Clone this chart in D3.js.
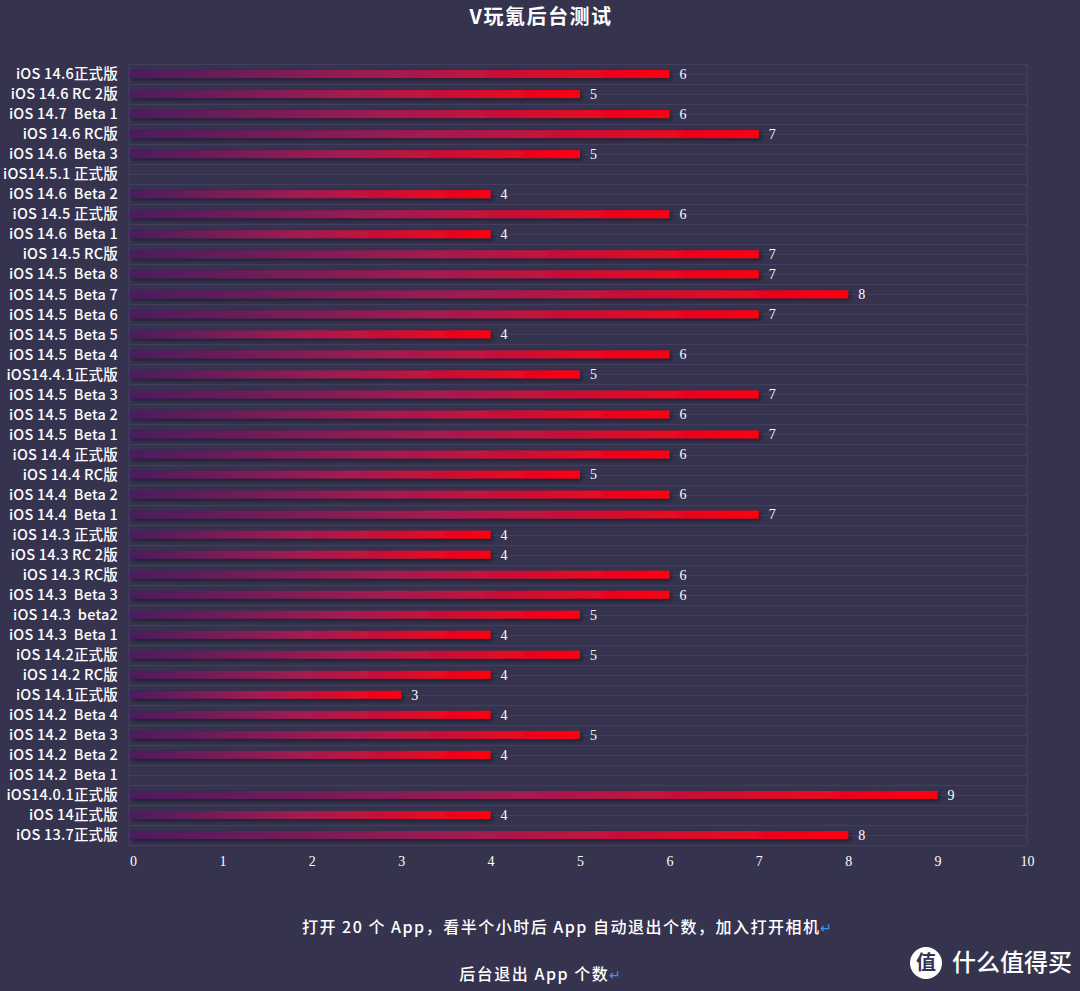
<!DOCTYPE html>
<html>
<head>
<meta charset="utf-8">
<script src="https://cdn.jsdelivr.net/npm/d3@7"></script>
<style>
  html, body { margin: 0; padding: 0; background: #36334f; }
  #chart { width: 1080px; height: 991px; }
  text { white-space: pre; }
</style>
</head>
<body>
<div id="chart"></div>
<script>
// data, top row first
const categories = [
  'iOS 14.6正式版', 'iOS 14.6 RC 2版', 'iOS 14.7  Beta 1', 'iOS 14.6 RC版', 'iOS 14.6  Beta 3',
  'iOS14.5.1 正式版', 'iOS 14.6  Beta 2', 'iOS 14.5 正式版', 'iOS 14.6  Beta 1', 'iOS 14.5 RC版',
  'iOS 14.5  Beta 8', 'iOS 14.5  Beta 7', 'iOS 14.5  Beta 6', 'iOS 14.5  Beta 5', 'iOS 14.5  Beta 4',
  'iOS14.4.1正式版', 'iOS 14.5  Beta 3', 'iOS 14.5  Beta 2', 'iOS 14.5  Beta 1', 'iOS 14.4 正式版',
  'iOS 14.4 RC版', 'iOS 14.4  Beta 2', 'iOS 14.4  Beta 1', 'iOS 14.3 正式版', 'iOS 14.3 RC 2版',
  'iOS 14.3 RC版', 'iOS 14.3  Beta 3', 'iOS 14.3  beta2', 'iOS 14.3  Beta 1', 'iOS 14.2正式版',
  'iOS 14.2 RC版', 'iOS 14.1正式版', 'iOS 14.2  Beta 4', 'iOS 14.2  Beta 3', 'iOS 14.2  Beta 2',
  'iOS 14.2  Beta 1', 'iOS14.0.1正式版', 'iOS 14正式版', 'iOS 13.7正式版'
];
const values = [
  6, 5, 6, 7, 5,
  null, 4, 6, 4, 7,
  7, 8, 7, 4, 6,
  5, 7, 6, 7, 6,
  5, 6, 7, 4, 4,
  6, 6, 5, 4, 5,
  4, 3, 4, 5, 4,
  null, 9, 4, 8
];
const xTicks = [0, 1, 2, 3, 4, 5, 6, 7, 8, 9, 10];
const title = 'V玩氪后台测试';
const note1 = '打开 20 个 App，看半个小时后 App 自动退出个数，加入打开相机';
const note2 = '后台退出 App 个数';

const data = categories.map((c, i) => ({ name: c, value: values[i] }));

const width = 1080, height = 991;
const margin = { top: 64, right: 53, bottom: 146, left: 133 };

const svg = d3.select('#chart').append('svg')
  .attr('width', width).attr('height', height)
  .attr('viewBox', [0, 0, width, height]);

const defs = svg.append('defs');
const grad = defs.append('linearGradient').attr('id', 'barGrad');
grad.append('stop').attr('offset', '0%').attr('stop-color', '#4a1a5e');
grad.append('stop').attr('offset', '50%').attr('stop-color', '#a61a4f');
grad.append('stop').attr('offset', '100%').attr('stop-color', '#ff0010');
const shadow = defs.append('filter').attr('id', 'shadow')
  .attr('x', '-5%').attr('y', '-100%').attr('width', '115%').attr('height', '300%');
shadow.append('feDropShadow').attr('dx', 2).attr('dy', 2).attr('stdDeviation', 2)
  .attr('flood-color', '#000').attr('flood-opacity', 0.45);

svg.append('rect').attr('width', width).attr('height', height).attr('fill', '#36334f');

let x = d3.scaleLinear().domain([0, 10]).range([margin.left, width - margin.right]);
let y = d3.scaleBand().domain(categories).range([margin.top, height - margin.bottom])
  .paddingInner(0.6).paddingOuter(0.3);

// grid lines: every half band
const step = y.step();
const gridYs = [margin.top];
categories.forEach((c) => {
  gridYs.push(y(c) + y.bandwidth() / 2);
  gridYs.push(y(c) + y.bandwidth() / 2 + step / 2);
});
svg.append('g')
  .attr('stroke', '#423e60')
  .attr('stroke-width', 1)
  .selectAll('line')
  .data(gridYs)
  .join('line')
  .attr('x1', x(0) - 4)
  .attr('x2', x(10))
  .attr('y1', (d) => Math.round(d) + 0.5)
  .attr('y2', (d) => Math.round(d) + 0.5);
svg.append('line')
  .attr('x1', x(0) - 4).attr('x2', x(0) - 4)
  .attr('y1', margin.top).attr('y2', height - margin.bottom)
  .attr('stroke', '#423e60');
svg.append('line')
  .attr('x1', x(10) + 0.5).attr('x2', x(10) + 0.5)
  .attr('y1', margin.top).attr('y2', height - margin.bottom)
  .attr('stroke', '#423e60');

const bars = data.filter((d) => d.value != null);

svg.append('g')
  .attr('fill', 'url(#barGrad)')
  .attr('filter', 'url(#shadow)')
  .selectAll('rect')
  .data(bars)
  .join('rect')
  .attr('x', x(0) - 3)
  .attr('y', (d) => y(d.name))
  .attr('height', y.bandwidth())
  .attr('width', (d) => x(d.value) - x(0) + 3);

// value labels
svg.append('g')
  .attr('fill', '#fff')
  .attr('font-family', '"Liberation Serif", "DejaVu Serif", serif')
  .attr('font-size', 14)
  .selectAll('text')
  .data(bars)
  .join('text')
  .attr('x', (d) => x(d.value) + 10)
  .attr('y', (d) => y(d.name) + y.bandwidth() / 2)
  .attr('dy', '0.35em')
  .text((d) => d.value);

// category labels
svg.append('g')
  .attr('fill', '#fff')
  .attr('font-family', '"Noto Sans CJK SC", "Noto Sans", sans-serif')
  .attr('font-size', 14.5)
  .attr('font-weight', 500)
  .attr('letter-spacing', 0.2)
  .attr('text-anchor', 'end')
  .selectAll('text')
  .data(categories)
  .join('text')
  .attr('x', 118)
  .attr('y', (d) => y(d) + y.bandwidth() / 2)
  .attr('dy', '0.36em')
  .text((d) => d);

// x axis
const xAxis = (g) =>
  g.attr('transform', `translate(0,${height - margin.bottom})`)
    .call(d3.axisBottom(x).tickValues(xTicks).tickSize(0).tickPadding(11))
    .call((g) => g.select('.domain').remove())
    .call((g) => g.selectAll('text')
      .attr('fill', '#fff')
      .attr('font-family', '"Liberation Serif", "DejaVu Serif", serif')
      .attr('font-size', 14));
svg.append('g').call(xAxis);

// title
svg.append('text')
  .attr('x', 541).attr('y', 17).attr('dy', '0.35em')
  .attr('text-anchor', 'middle')
  .attr('fill', '#fff')
  .attr('font-family', '"Noto Sans CJK SC", sans-serif')
  .attr('font-size', 20).attr('font-weight', 600)
  .attr('letter-spacing', 1.5)
  .text(title);

// notes under the chart
const notes = [
  { text: note1, x: 568, y: 927 },
  { text: note2, x: 541, y: 974 }
];
notes.forEach((n) => {
  const t = svg.append('text')
    .attr('x', n.x).attr('y', n.y).attr('dy', '0.35em')
    .attr('text-anchor', 'middle')
    .attr('fill', '#fff')
    .attr('font-family', '"Noto Sans CJK SC", sans-serif')
    .attr('font-size', 16).attr('font-weight', 500)
    .attr('letter-spacing', 1.5);
  t.append('tspan').text(n.text);
  t.append('tspan').attr('fill', '#4a90e2').attr('font-size', 14).text('↵');
});

// watermark
const wm = svg.append('g').attr('transform', 'translate(926,963)');
wm.append('circle').attr('r', 16).attr('fill', '#fff');
wm.append('text').attr('dy', '0.35em').attr('text-anchor', 'middle')
  .attr('fill', '#36334f').attr('font-size', 20).attr('font-weight', 700)
  .attr('font-family', '"Noto Sans CJK SC", sans-serif').text('值');
wm.append('text').attr('x', 26).attr('dy', '0.35em')
  .attr('fill', '#fff').attr('font-size', 24).attr('font-weight', 500)
  .attr('font-family', '"Noto Sans CJK SC", sans-serif').text('什么值得买');
</script>
</body>
</html>
